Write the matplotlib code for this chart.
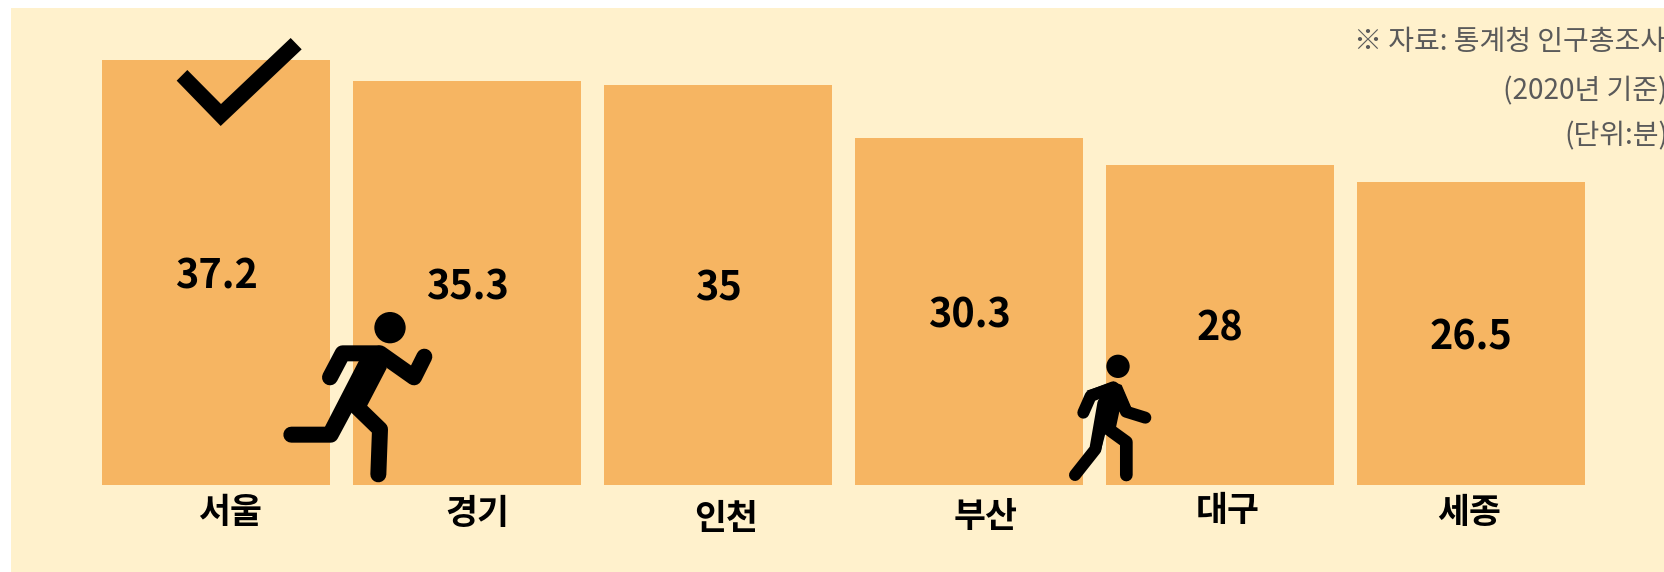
import matplotlib
matplotlib.use("Agg")
import matplotlib.pyplot as plt
from matplotlib.patches import Polygon, Circle, Rectangle

plt.rcParams['font.family'] = ['Noto Sans CJK KR', 'DejaVu Sans']

categories = ['서울', '경기', '인천', '부산', '대구', '세종']
values = [37.2, 35.3, 35, 30.3, 28, 26.5]
value_labels = ['37.2', '35.3', '35', '30.3', '28', '26.5']
notes = ['※ 자료: 통계청 인구총조사', '(2020년 기준)', '(단위:분)']

BG = '#FFF1CC'
BAR = '#F6B562'
W, H = 1665, 572
fig = plt.figure(figsize=(W / 100, H / 100), dpi=100, facecolor='white')

# background panel and overlay in pixel coordinates
ov = fig.add_axes([0, 0, 1, 1], zorder=3)
ov.set_xlim(0, W); ov.set_ylim(H, 0); ov.axis('off'); ov.patch.set_alpha(0)

bg = fig.add_axes([0, 0, 1, 1], zorder=0)
bg.set_xlim(0, W); bg.set_ylim(H, 0); bg.axis('off')
bg.add_patch(Rectangle((11, 8), W - 11, H - 8, fc=BG, ec='none'))

# bar axes: 251 px per category, 11.43 px per unit, baseline at y=484.8
pitch = 251.0
x0 = 216.0 - pitch / 2
base = 484.8
ppu = 11.43
ax = fig.add_axes([x0 / W, 1 - base / H, 6 * pitch / W, 476.8 / H], zorder=1)
ax.patch.set_alpha(0)
ax.set_xlim(-0.5, 5.5); ax.set_ylim(0, 476.8 / ppu)
ax.axis('off')
ax.bar(range(len(values)), values, width=0.908, color=BAR, linewidth=0)
for i, (v, t) in enumerate(zip(values, value_labels)):
    ax.text(i, v / 2, t, ha='center', va='center_baseline', fontsize=28.5,
            fontweight='bold', color='black', zorder=4)

# category labels sit slightly off-centre in the source
cat_pos = [(229.6, 512), (477.6, 513.6), (726, 518), (985.5, 517), (1228, 511), (1469.5, 512)]
for c, (x, y) in zip(categories, cat_pos):
    ov.text(x, y, c, ha='center', va='center', fontsize=25, fontweight='bold', color='black')

# the notes run past the right edge in the source, and are cut there
note_pos = [(1354, 42.5), (1503, 91), (1564, 136)]
for t, (x, y) in zip(notes, note_pos):
    ov.text(x, y, t, ha='left', va='center', fontsize=20.2, fontweight='light', color='#5a5a5a')

K = 'black'
def thick(pts, ox, oy, w):
    xs = [ox + p[0] / 3 for p in pts]
    ys = [oy + p[1] / 3 for p in pts]
    ov.plot(xs, ys, color=K, lw=w * 0.72, solid_capstyle='round', solid_joinstyle='round')

def poly(pts, ox, oy):
    ov.add_patch(Polygon([(ox + p[0] / 3, oy + p[1] / 3) for p in pts], closed=True, fc=K, ec='none'))

# check mark
poly([(50, 182), (82, 150), (183, 252), (392, 54), (425, 88), (182, 318)], 160, 20)

# runner
ox, oy = 270, 300
ov.add_patch(Circle((ox + 360 / 3, oy + 83 / 3), 47 / 3, fc=K, ec='none'))
thick([(180, 232), (218, 160), (325, 160)], ox, oy, 16)
thick([(330, 160), (432, 232), (463, 170)], ox, oy, 16)
poly([(266, 184), (325, 137), (350, 205), (290, 320), (237, 340), (195, 420), (165, 380)], ox, oy)
thick([(64, 404), (182, 404), (262, 255)], ox, oy, 16)
thick([(262, 322), (330, 388), (325, 523)], ox, oy, 16)

# walker
ox, oy = 1050, 340
ov.add_patch(Circle((ox + 204 / 3, oy + 79 / 3), 35 / 3, fc=K, ec='none'))
thick([(100, 218), (122, 168), (190, 142)], ox, oy, 12)
thick([(200, 150), (228, 215), (286, 233)], ox, oy, 12)
poly([(150, 175), (110, 152), (190, 125), (215, 135), (245, 205), (208, 215),
      (198, 262), (165, 285), (152, 335), (122, 320)], ox, oy)
thick([(75, 405), (136, 328), (160, 190)], ox, oy, 12)
thick([(182, 272), (229, 306), (229, 405)], ox, oy, 12.7)

fig.savefig('out.png', dpi=100, facecolor='white')
